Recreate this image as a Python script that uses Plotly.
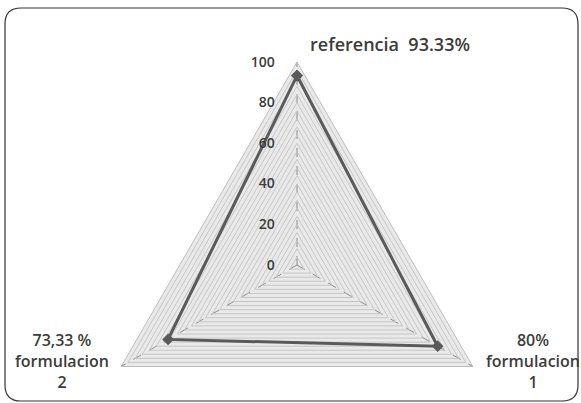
import plotly.graph_objects as go

# Radar data: one score per sample
categories = ["referencia", "formulacion 1", "formulacion 2"]
values = [93.33, 80.0, 73.33]

# Corner labels (text shown next to each vertex)
value_labels = ["93.33%", "80%", "73,33 %"]
corner_lines = [["referencia  " + value_labels[0]],
                [value_labels[1], "formulacion", "1"],
                [value_labels[2], "formulacion", "2"]]

# Radial grid: fine grid every 4 units, labels every 20
radial_ticks = list(range(0, 101, 4))
PAD = "\u2007\u2007\u00a0"  # trailing gap between the label and the axis
radial_text = [(str(t) + PAD) if t % 20 == 0 else "" for t in radial_ticks]

W, H = 581, 470
FONT = "Open Sans"
TXT = "#3c3c3c"

fig = go.Figure()
fig.add_trace(go.Scatterpolar(
    r=values + values[:1],
    theta=categories + categories[:1],
    mode="lines+markers",
    line=dict(color="#5a5a5a", width=3),
    marker=dict(symbol="diamond", size=9, color="#5a5a5a"),
    showlegend=False,
    hoverinfo="skip",
))

cx, cy, R = 297, 265, 203
fig.update_layout(
    width=W, height=H, autosize=False,
    margin=dict(l=0, r=0, t=0, b=0),
    paper_bgcolor="white",
    font=dict(family=FONT, color=TXT),
    polar=dict(
        domain=dict(x=[(cx - R) / W, (cx + R) / W],
                    y=[1 - (cy + R) / H, 1 - (cy - R) / H]),
        gridshape="linear",
        bgcolor="#e9e9e9",
        radialaxis=dict(
            range=[0, 100], angle=90, tickangle=90,
            tickvals=radial_ticks, ticktext=radial_text,
            showline=False, ticks="",
            gridcolor="#c6c6c6", gridwidth=1,
            tickfont=dict(family=FONT, size=14, color=TXT, weight=600),
            side="counterclockwise",
        ),
        angularaxis=dict(
            direction="clockwise", rotation=90,
            showticklabels=False, ticks="",
            gridcolor="#8a8a8a", griddash="dash", gridwidth=1,
            linecolor="#bdbdbd", linewidth=1,
        ),
    ),
)

# Vertex labels
positions = [(390, 44, 18), (533, 361, 16), (62, 361, 16)]
for lines, (x, y, size) in zip(corner_lines, positions):
    fig.add_annotation(
        x=x / W, y=1 - y / H, xref="paper", yref="paper",
        text="<br>".join(lines), showarrow=False,
        xanchor="center", yanchor="middle",
        font=dict(family=FONT, size=size, color=TXT, weight=600),
    )

# Rounded frame around the figure
x0, y0, x1, y1, rr = 5, 8, 578, 401, 16
px = lambda v: v / W
py = lambda v: 1 - v / H
path = (f"M {px(x0 + rr)},{py(y0)} L {px(x1 - rr)},{py(y0)} "
        f"Q {px(x1)},{py(y0)} {px(x1)},{py(y0 + rr)} "
        f"L {px(x1)},{py(y1 - rr)} Q {px(x1)},{py(y1)} {px(x1 - rr)},{py(y1)} "
        f"L {px(x0 + rr)},{py(y1)} Q {px(x0)},{py(y1)} {px(x0)},{py(y1 - rr)} "
        f"L {px(x0)},{py(y0 + rr)} Q {px(x0)},{py(y0)} {px(x0 + rr)},{py(y0)} Z")
fig.add_shape(type="path", path=path, xref="paper", yref="paper",
              line=dict(color="#333333", width=1.2))

fig.write_html(
    "out.html",
    post_script="document.documentElement.style.overflow='hidden';"
                "document.body.style.overflow='hidden';",
)
